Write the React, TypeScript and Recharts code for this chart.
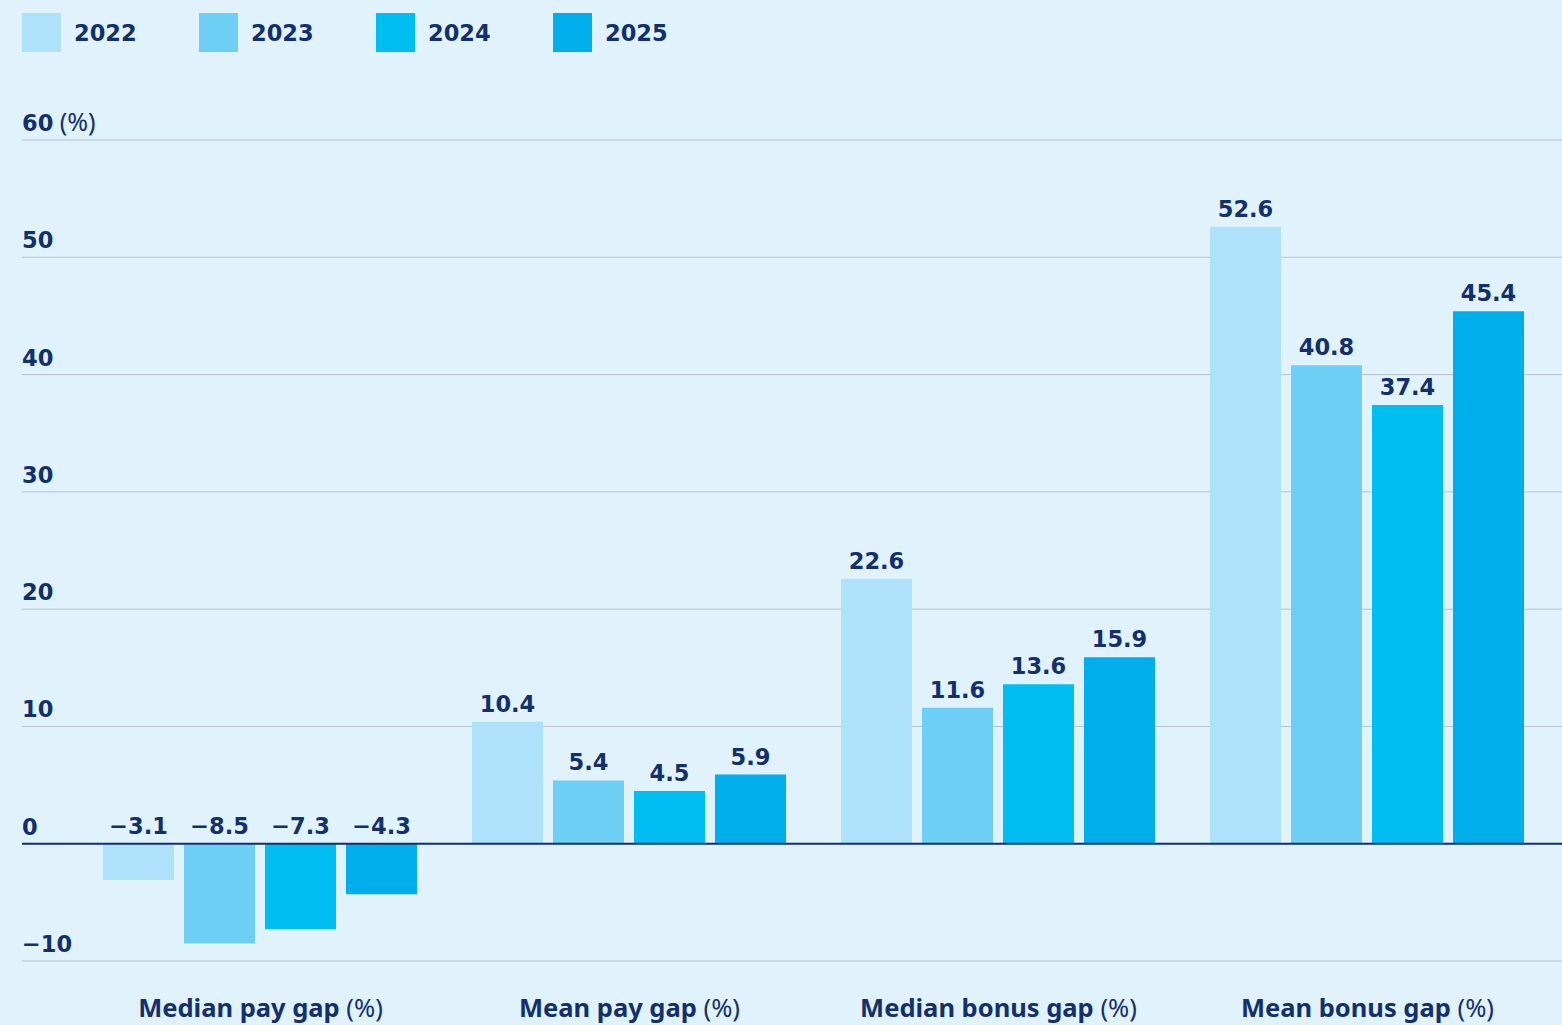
import React from "react";
import {
  BarChart,
  Bar,
  XAxis,
  YAxis,
  CartesianGrid,
  LabelList,
  ReferenceLine,
} from "recharts";

const categories = ["Median pay gap", "Mean pay gap", "Median bonus gap", "Mean bonus gap"];
const years = ["2022", "2023", "2024", "2025"];
const values2022 = [-3.1, 10.4, 22.6, 52.6];
const values2023 = [-8.5, 5.4, 11.6, 40.8];
const values2024 = [-7.3, 4.5, 13.6, 37.4];
const values2025 = [-4.3, 5.9, 15.9, 45.4];
const yTicks = [-10, 0, 10, 20, 30, 40, 50, 60];

const colors = ["#aee1fa", "#6ecff5", "#00bef2", "#00aeeb"];
const navy = "#13306b";
const font = "'DejaVu Sans', sans-serif";
const labelFont = "'Noto Sans', sans-serif";

const data = categories.map((c, i) => ({
  name: c,
  y2022: values2022[i],
  y2023: values2023[i],
  y2024: values2024[i],
  y2025: values2025[i],
}));

const fmt = (v: number) => (v < 0 ? `\u2212${Math.abs(v)}` : `${v}`);

function ValueLabel(props: any) {
  const { x, y, width, height, value } = props;
  const top = Math.min(y, y + height);
  return (
    <text
      x={x + width / 2}
      y={top - 10}
      textAnchor="middle"
      fill={navy}
      fontFamily={font}
      fontWeight={700}
      fontSize={22.5}
    >
      {fmt(value)}
    </text>
  );
}

function YTick(props: any) {
  const { y, payload } = props;
  return (
    <text x={22} y={y - 9} fill={navy} fontFamily={font} fontSize={22.5}>
      <tspan fontWeight={700}>{fmt(payload.value)}</tspan>
      {payload.value === 60 && (
        <tspan fontWeight={400} fontFamily={labelFont} fontSize={25}> (%)</tspan>
      )}
    </text>
  );
}

function XTick(props: any) {
  const { x, y, payload } = props;
  return (
    <text x={x} y={y + 48} textAnchor="middle" fill={navy} fontFamily={labelFont} fontSize={25.5}>
      <tspan fontWeight={700}>{payload.value}</tspan>
      <tspan fontWeight={400}> (%)</tspan>
    </text>
  );
}

function LegendBox() {
  return (
    <div style={{ position: "absolute", top: 13, left: 22, display: "flex", fontFamily: font, zIndex: 2 }}>
      {years.map((yr, i) => (
        <div key={yr} style={{ display: "flex", alignItems: "center", width: 177 }}>
          <div style={{ width: 39, height: 39, background: colors[i] }} />
          <span style={{ marginLeft: 13, fontSize: 22.5, fontWeight: 700, color: navy }}>{yr}</span>
        </div>
      ))}
    </div>
  );
}

export default function App() {
  return (
    <div style={{ position: "absolute", left: 0, top: 0, width: 1562, height: 1025, background: "#e0f2fc" }}>
      <LegendBox />
      <BarChart
        width={1562}
        height={1025}
        data={data}
        margin={{ top: 140, right: 0, left: 21, bottom: 0 }}
        barCategoryGap={27}
        barGap={10}
      >
        <CartesianGrid vertical={false} stroke="#b9c2ca" strokeWidth={1} />
        <XAxis
          dataKey="name"
          axisLine={false}
          tickLine={false}
          height={64}
          padding={{ left: 54, right: 10 }}
          tick={<XTick />}
          interval={0}
        />
        <YAxis
          domain={[-10, 60]}
          ticks={yTicks}
          axisLine={false}
          tickLine={false}
          width={1}
          tick={<YTick />}
          interval={0}
        />
        {years.map((yr, i) => (
          <Bar key={yr} dataKey={`y${yr}`} name={yr} fill={colors[i]} isAnimationActive={false}>
            <LabelList dataKey={`y${yr}`} content={<ValueLabel />} />
          </Bar>
        ))}
        <ReferenceLine y={0} stroke={navy} strokeWidth={2} />
      </BarChart>
    </div>
  );
}
